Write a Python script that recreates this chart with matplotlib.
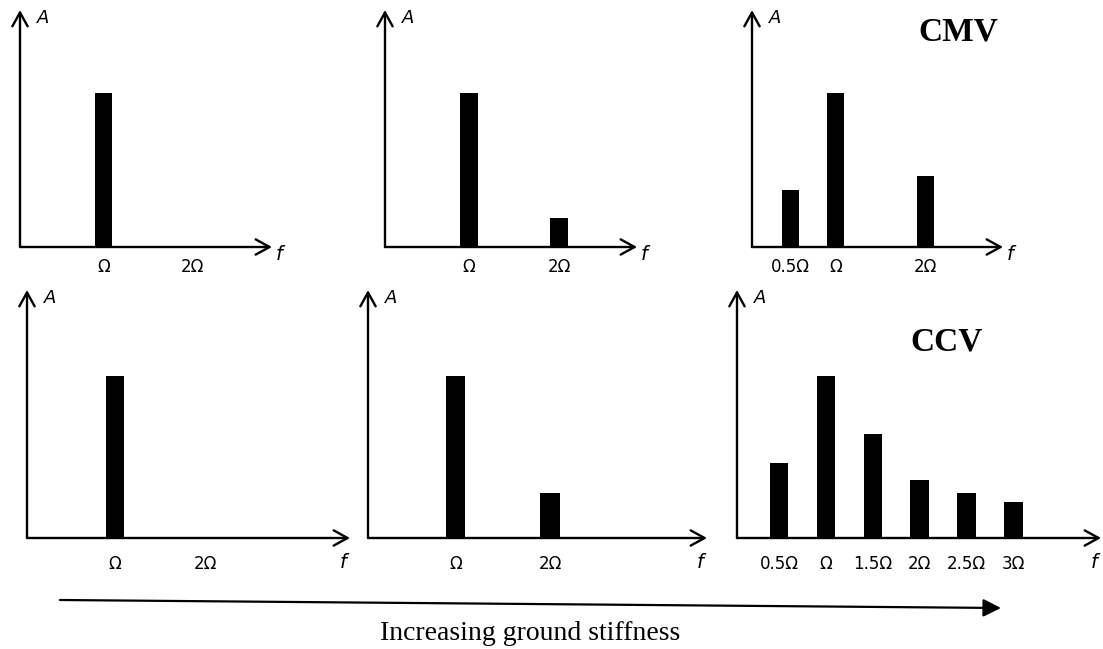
import matplotlib
matplotlib.use("Agg")
import matplotlib.pyplot as plt

# ---------------- data ----------------
# frequencies in units of Omega, amplitudes normalised to the main (Omega) peak
p1_freq = [1.0]
p1_amp = [1.0]
p1_ticks = [1.0, 2.0]
p1_labels = ["Ω", "2Ω"]

p2_freq = [1.0, 2.0]
p2_amp = [1.0, 0.19]
p2_ticks = [1.0, 2.0]
p2_labels = ["Ω", "2Ω"]

p3_freq = [0.5, 1.0, 2.0]
p3_amp = [0.37, 1.0, 0.46]
p3_ticks = [0.5, 1.0, 2.0]
p3_labels = ["0.5Ω", "Ω", "2Ω"]

p4_freq = [1.0]
p4_amp = [1.0]
p4_ticks = [1.0, 2.0]
p4_labels = ["Ω", "2Ω"]

p5_freq = [1.0, 2.0]
p5_amp = [1.0, 0.28]
p5_ticks = [1.0, 2.0]
p5_labels = ["Ω", "2Ω"]

p6_freq = [0.5, 1.0, 1.5, 2.0, 2.5, 3.0]
p6_amp = [0.46, 1.0, 0.64, 0.36, 0.28, 0.22]
p6_ticks = [0.5, 1.0, 1.5, 2.0, 2.5, 3.0]
p6_labels = ["0.5Ω", "Ω", "1.5Ω", "2Ω", "2.5Ω", "3Ω"]

panel_titles = ["", "", "CMV", "", "", "CCV"]
bottom_text = "Increasing ground stiffness"

# ---------------- layout (pixels) ----------------
W, H = 1103, 649
fig = plt.figure(figsize=(W / 100, H / 100), dpi=100)

# (y-axis x, x-axis y, arrow tip x, arrow top y, px per Omega, Omega centre px, px per unit amp, bar width)
layout = [
    (20, 247, 272, 10, 88.5, 103.5, 154, 0.19),
    (385, 247, 637, 10, 90, 469, 154, 0.19),
    (752, 247, 1003, 10, 90, 835.5, 154, 0.19),
    (27, 538, 350, 290, 90, 115, 162, 0.20),
    (368, 538, 707, 290, 94.5, 455.5, 162, 0.21),
    (737, 538, 1101, 290, 93.8, 826, 162, 0.20),
]
title_pos = [None, None, (958, 32), None, None, (947, 342)]

data = [
    (p1_freq, p1_amp, p1_ticks, p1_labels),
    (p2_freq, p2_amp, p2_ticks, p2_labels),
    (p3_freq, p3_amp, p3_ticks, p3_labels),
    (p4_freq, p4_amp, p4_ticks, p4_labels),
    (p5_freq, p5_amp, p5_ticks, p5_labels),
    (p6_freq, p6_amp, p6_ticks, p6_labels),
]

for i, ((freq, amp, ticks, labels), (ox, oy, tx, ty, pp, oc, ascale, bw)) in enumerate(zip(data, layout)):
    ax = fig.add_axes([ox / W, (H - oy) / H, (tx - ox) / W, (oy - ty) / H])
    x0 = 1.0 - (oc - ox) / pp
    ax.set_xlim(x0, x0 + (tx - ox) / pp)
    ax.set_ylim(0, (oy - ty) / ascale)
    ax.bar(freq, amp, width=bw, color="black", clip_on=False, zorder=3)
    for s in ax.spines.values():
        s.set_visible(False)
    ax.set_yticks([])
    ax.set_xticks(ticks, labels, fontsize=12, family="DejaVu Sans")
    bottom_row = i >= 3
    ax.tick_params(axis="x", length=0, pad=12 if bottom_row else 8)
    ap = dict(arrowstyle="->,head_length=1.0,head_width=0.55", lw=1.7, color="black",
              shrinkA=0, shrinkB=0)
    ax.annotate("", xy=(1, 0), xytext=(0, 0), xycoords="axes fraction",
                arrowprops=ap, annotation_clip=False)
    ax.annotate("", xy=(0, 1), xytext=(0, 0), xycoords="axes fraction",
                arrowprops=ap, annotation_clip=False)
    # axis letters
    fig.text((ox + 17) / W, 1 - (ty + 8) / H, "A", fontsize=13, style="italic",
             ha="left", va="center")
    if bottom_row:
        fig.text((tx - 7) / W, 1 - (oy + 25) / H, "f", fontsize=14, style="italic",
                 ha="center", va="center")
    else:
        fig.text((tx + 7) / W, 1 - (oy + 7) / H, "f", fontsize=14, style="italic",
                 ha="center", va="center")
    if title_pos[i] is not None:
        fig.text(title_pos[i][0] / W, 1 - title_pos[i][1] / H, panel_titles[i],
                 fontsize=24, fontweight="bold", family="Liberation Serif",
                 ha="center", va="center")

# bottom arrow and text
fig.patches.append(matplotlib.patches.FancyArrowPatch(
    (60 / W, 1 - 600 / H), (1001 / W, 1 - 608 / H), transform=fig.transFigure,
    arrowstyle="-|>,head_length=0.9,head_width=0.45", mutation_scale=12,
    lw=1.6, color="black", shrinkA=0, shrinkB=0))
fig.text(530 / W, 1 - 633 / H, bottom_text, fontsize=20, family="Liberation Serif",
         ha="center", va="center")

fig.savefig("out.png", dpi=100)
